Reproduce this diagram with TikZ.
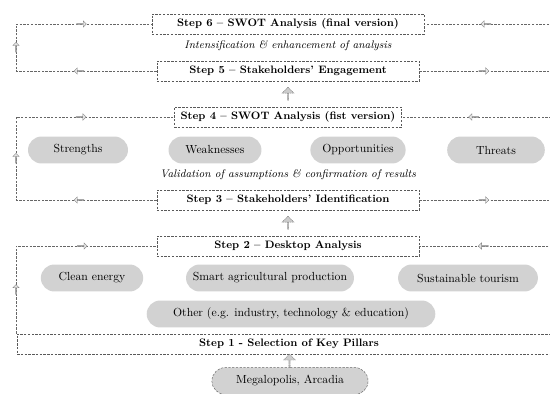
\documentclass[tikz,border=0pt]{standalone}
\usepackage{tikz}
\tikzset{
    stepbox/.style={rectangle,draw=black!65,dash pattern=on 2pt off 1.2pt,fill=white,font=\fontsize{9.2}{11}\bfseries,text centered,minimum height=17.5pt,inner sep=1pt},
    pill/.style={rounded rectangle,fill=gray!35,draw=none,text centered,minimum height=23pt},
    note/.style={font=\fontsize{9.4}{11}\itshape,inner sep=1pt},
    loopline/.style={draw=black!60,line width=0.45pt,dash pattern=on 2pt off 1.2pt},
    blockup/.style={single arrow,shape border rotate=90,fill=gray!40,draw=gray,dash pattern=on 1pt off 0.6pt,minimum height=11pt,minimum width=10pt,single arrow head extend=1.8pt,inner sep=0pt},
    tip/.style={single arrow,shape border rotate=#1,fill=gray!20,draw=gray,line width=0.3pt,minimum height=8.5pt,minimum width=5.5pt,single arrow head extend=1pt,inner sep=0pt,solid},
}
\usetikzlibrary{shapes,shapes.misc,shapes.arrows}
\usetikzlibrary{positioning,calc}

\begin{document}
\begin{tikzpicture}[x=0.03cm,y=-0.03cm]
\useasboundingbox (0,0) rectangle (550,394);
\clip (0,0) rectangle (550,394);
\coordinate (L) at (16,0);
\coordinate (R) at (562,0);
\node[stepbox,minimum width=232pt](S6) at (288,24) {Step 6 -- SWOT Analysis (final version)};
\node[note](N65) at (288,46) {Intensification \& enhancement of analysis};
\node[stepbox,minimum width=224pt](S5) at (288,71) {Step 5 -- Stakeholders' Engagement};
\node[stepbox,minimum width=194pt](S4) at (288,117) {Step 4 -- SWOT Analysis (fist version)};
\node[pill,minimum width=92pt](Str) at (78,150) {Strengths};
\node[pill,minimum width=86pt](Wea) at (215,150) {Weaknesses};
\node[pill,minimum width=88pt](Opp) at (358,150) {Opportunities};
\node[pill,minimum width=90pt](Thr) at (496,150) {Threats};
\node[note](N43) at (288,175) {Validation of assumptions \& confirmation of results};
\node[stepbox,minimum width=224pt](S3) at (288,200) {Step 3 -- Stakeholders' Identification};
\node[stepbox,minimum width=224pt](S2) at (288,246) {Step 2 -- Desktop Analysis};
\node[pill,minimum width=94pt](Cle) at (92,278) {Clean energy};
\node[pill,minimum width=150pt](Sma) at (270,278) {Smart agricultural production};
\node[pill,minimum width=126pt](Tou) at (468,278) {Sustainable tourism};
\node[pill,minimum width=253pt](Oth) at (291,314) {Other (e.g. industry, technology \& education)};
\node[stepbox,minimum width=464pt](S1) at (289,344) {Step 1 - Selection of Key Pillars};
\node[pill,draw=black!60,dash pattern=on 2pt off 1.2pt,minimum width=140pt](Meg) at (290,381) {Megalopolis, Arcadia};
\node[blockup](U54) at ($(S5.south)!0.5!(S4.north)$) {};
\node[blockup](U32) at ($(S3.south)!0.5!(S2.north)$) {};
\node[blockup](U01) at ($(S1.south)!0.5!(Meg.north)$) {};
\draw[loopline] (S5.west) -- node[tip=180,pos=0.55]{} (S5.west -| L) -- node[tip=90]{} (S6.west -| L) -- node[tip=0,pos=0.48]{} (S6.west);
\draw[loopline] (S5.east) -- node[tip=0,pos=0.45]{} (S5.east -| R) -- (S6.east -| R) -- node[tip=180,pos=0.55]{} (S6.east);
\draw[loopline] (S3.west) -- node[tip=180,pos=0.55]{} (S3.west -| L) -- node[tip=90]{} (S4.west -| L) -- node[tip=0,pos=0.41]{} (S4.west);
\draw[loopline] (S3.east) -- node[tip=0,pos=0.45]{} (S3.east -| R) -- (S4.east -| R) -- node[tip=180,pos=0.55]{} (S4.east);
\draw[loopline] (S1.north -| L) -- node[tip=90]{} (S2.west -| L) -- node[tip=0,pos=0.47]{} (S2.west);
\draw[loopline] (S1.north -| R) -- (S2.east -| R) -- node[tip=180,pos=0.55]{} (S2.east);
\end{tikzpicture}
\end{document}
